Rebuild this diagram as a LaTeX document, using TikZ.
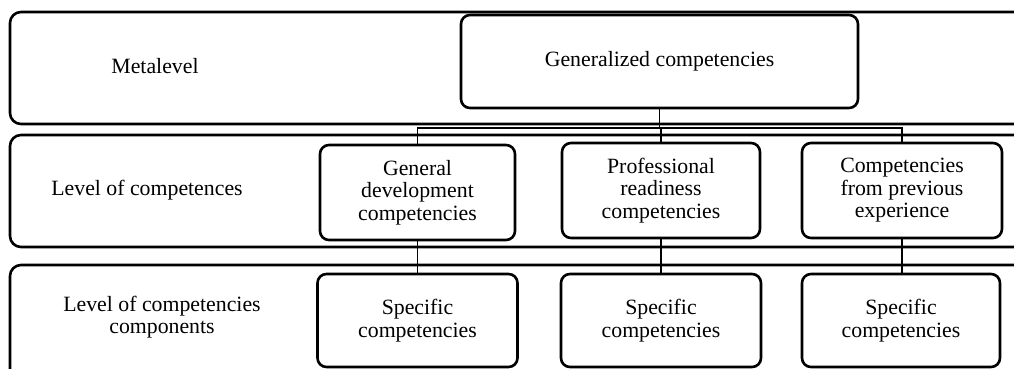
\documentclass[tikz,border=0pt]{standalone}
\usepackage{fontspec}
\setmainfont{Liberation Serif}
\begin{document}
\begin{tikzpicture}[x=1pt,y=-1pt,
  band/.style={line width=2.6pt,rounded corners=11pt},
  cbox/.style={draw,line width=2.6pt,rounded corners=9pt,fill=white,align=center,inner sep=0pt,
    font=\fontsize{21.8}{22.5}\selectfont},
  lbl/.style={align=center,font=\fontsize{21.8}{22.5}\selectfont},
  conn/.style={line width=1.6pt}]
\useasboundingbox (0,0) rectangle (1014,369);
\clip (0,0) rectangle (1014,369);
% bands
\draw[band] (10,12) rectangle (1040,124);
\draw[band] (10,135) rectangle (1040,247);
\draw[band] (10,265) rectangle (1040,420);
% labels
\node[lbl] (l1) at (155,66) {Metalevel};
\node[lbl] (l2) at (147,190) {Level of competences};
\node[lbl] (l3) at (162,317) {Level of competencies\\components};
% boxes
\node[cbox,minimum width=397pt,minimum height=93pt] (gen) at (659.5,61.5) {Generalized competencies};
\node[cbox,minimum width=195pt,minimum height=95pt] (gd) at (417.5,192.5) {General\\development\\competencies};
\node[cbox,minimum width=198pt,minimum height=95pt] (pr) at (661,190.5) {Professional\\readiness\\competencies};
\node[cbox,minimum width=200pt,minimum height=95pt] (ce) at (902,190.5) {Competencies\\from previous\\experience};
\node[cbox,minimum width=200pt,minimum height=93pt] (s1) at (417.5,320.5) {Specific\\competencies};
\node[cbox,minimum width=200pt,minimum height=93pt] (s2) at (661,320.5) {Specific\\competencies};
\node[cbox,minimum width=198pt,minimum height=93pt] (s3) at (901,320.5) {Specific\\competencies};
% connectors
\coordinate (j) at (659.5,128);
\draw[conn] (gen.south) -- (j);
\draw[conn] (gd.north) -- (gd.north |- j) -- (ce.north |- j) -- (ce.north);
\draw[conn] (pr.north) -- (pr.north |- j);
\draw[conn] (gd.south) -- (gd.south |- s1.north);
\draw[conn] (pr.south) -- (pr.south |- s2.north);
\draw[conn] (ce.south) -- (ce.south |- s3.north);
\end{tikzpicture}
\end{document}
